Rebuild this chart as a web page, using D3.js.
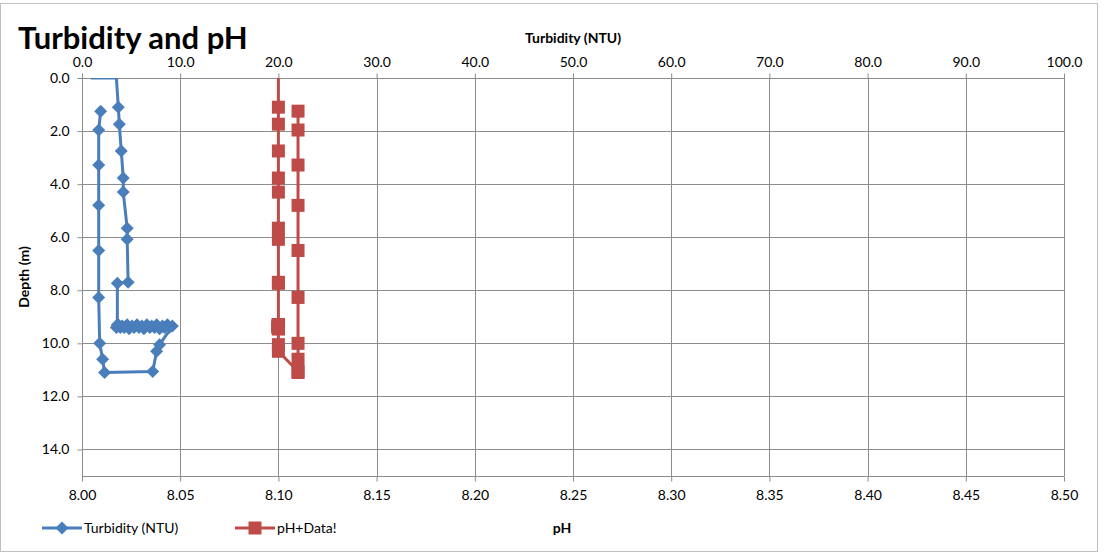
<!DOCTYPE html>
<html><head><meta charset="utf-8">
<script src="https://cdn.jsdelivr.net/npm/d3@7"></script>
<style>
html,body{margin:0;padding:0;background:#fff;}
svg{display:block;font-family:Lato,"Open Sans",sans-serif;}
</style></head>
<body>
<svg id="chart" width="1110" height="554"></svg>
<script>
// ---- data (profile in recorded order) ----
const depth = [1.25,1.96,3.28,4.8,6.5,8.27,10.0,10.6,11.1,11.06,10.3,10.05,
  9.35,9.4,9.3,9.4,9.35,9.45,9.3,9.4,9.35,9.4,9.3,9.45,9.35,9.4,9.3,9.4,9.35,9.45,9.3,9.4,9.35,9.4,9.3,9.4,9.35,9.3,
  7.74,7.7,6.08,5.66,4.3,3.77,2.75,1.74,1.1,0,0];
const turbidity = [1.9,1.7,1.7,1.7,1.7,1.7,1.8,2.1,2.3,7.2,7.6,7.9,
  9.2,8.9,8.7,8.4,8.2,7.9,7.6,7.4,7.1,6.9,6.6,6.3,6.1,5.8,5.6,5.3,5.1,4.8,4.6,4.3,4.1,3.9,3.7,3.5,3.6,3.6,
  3.6,4.7,4.6,4.6,4.2,4.2,4.0,3.8,3.7,3.5,0.9];
const pH = [8.11,8.11,8.11,8.11,8.11,8.11,8.11,8.11,8.11,8.11,8.10,8.10,
  8.10,8.10,8.10,8.10,8.10,8.10,8.10,8.10,8.10,8.10,8.10,8.10,8.10,8.10,8.10,8.10,8.10,8.10,8.10,8.10,8.10,8.10,8.10,8.10,8.10,8.10,
  8.10,8.10,8.10,8.10,8.10,8.10,8.10,8.10,8.10,8.10,8.10];
const depthTicks = [0,2,4,6,8,10,12,14];
const turbTicks = [0,10,20,30,40,50,60,70,80,90,100];
const pHTicks = [8.00,8.05,8.10,8.15,8.20,8.25,8.30,8.35,8.40,8.45,8.50];
const seriesNames = ["Turbidity (NTU)","pH+Data!"];

const W = 1110, H = 554;
const m = {left:82, right:1064, top:78, bottom:476};
const blue = "#4A7EBB", red = "#BE4B48", grid = "#8C8C8C", txt = "#000";

const svg = d3.select("#chart");
const y = d3.scaleLinear().domain([0,15]).range([m.top, m.bottom]);
const xT = d3.scaleLinear().domain([0,100]).range([m.left, m.right]);
const xP = d3.scaleLinear().domain([8.0,8.5]).range([m.left, m.right]);

// chart border
svg.append("rect").attr("x",0.5).attr("y",3.5).attr("width",1097).attr("height",548)
  .attr("fill","#fff").attr("stroke","#BFBFBF").attr("stroke-width",1);

// gridlines
const g = svg.append("g");
g.selectAll(".hg").data(depthTicks.slice(1).concat([15])).enter().append("line")
  .attr("x1",m.left).attr("x2",m.right)
  .attr("y1",d=>Math.round(y(d))+0.5).attr("y2",d=>Math.round(y(d))+0.5)
  .attr("stroke",grid).attr("stroke-width",1);
g.selectAll(".vg").data(turbTicks.slice(1)).enter().append("line")
  .attr("y1",m.top).attr("y2",m.bottom)
  .attr("x1",d=>Math.round(xT(d))+0.5).attr("x2",d=>Math.round(xT(d))+0.5)
  .attr("stroke",grid).attr("stroke-width",1);

// axes
const fmt1 = d3.format(".1f"), fmt2 = d3.format(".2f");
const axL = svg.append("g").attr("transform",`translate(${m.left+0.5},0)`)
  .call(d3.axisLeft(y).tickValues(depthTicks).tickFormat(fmt1).tickSize(5).tickPadding(8));
const axT = svg.append("g").attr("transform",`translate(0,${m.top+0.5})`)
  .call(d3.axisTop(xT).tickValues(turbTicks).tickFormat(fmt1).tickSize(5).tickPadding(7));
const axB = svg.append("g").attr("transform",`translate(0,${m.bottom+0.5})`)
  .call(d3.axisBottom(xP).tickValues(pHTicks).tickFormat(fmt2).tickSize(5).tickPadding(9));
[axL,axT,axB].forEach(a=>{
  a.select(".domain").attr("stroke",grid);
  a.selectAll(".tick line").attr("stroke",grid);
  a.selectAll(".tick text").attr("fill",txt).style("font-size","14px").style("font-family","Lato, sans-serif");
});
axL.select(".domain").attr("d",`M0,${m.top}V${m.bottom}`);
axT.select(".domain").attr("d",`M${m.left},0H${m.right}`);
axB.select(".domain").attr("d",`M${m.left},0H${m.right}`);

// clip for plot
svg.append("clipPath").attr("id","clip").append("rect")
  .attr("x",m.left-8).attr("y",m.top).attr("width",m.right-m.left+16).attr("height",m.bottom-m.top);

const idx = d3.range(depth.length);
const plot = svg.append("g").attr("clip-path","url(#clip)");
const diamond = s => `M0,${-s}L${s},0L0,${s}L${-s},0Z`;
const square = s => `M${-s},${-s}H${s}V${s}H${-s}Z`;

function drawSeries(xs, vals, color, shape){
  const line = d3.line().x(i=>xs(vals[i])).y(i=>y(depth[i]));
  plot.append("path").datum(idx).attr("d",line).attr("fill","none")
    .attr("stroke",color).attr("stroke-width",3).attr("stroke-linejoin","round");
  plot.selectAll(null).data(idx.filter(i=>depth[i]>0)).enter().append("path")
    .attr("transform",i=>`translate(${xs(vals[i])},${y(depth[i])})`)
    .attr("d",shape).attr("fill",color);
}
drawSeries(xT, turbidity, blue, diamond(6.5));
drawSeries(xP, pH, red, square(6.5));

// titles
svg.append("text").attr("x",18).attr("y",49).text("Turbidity and pH")
  .style("font-size","31px").style("font-weight","bold").attr("fill",txt);
svg.append("text").attr("x",(m.left+m.right)/2).attr("y",43).attr("text-anchor","middle")
  .text("Turbidity (NTU)").style("font-size","14px").style("font-weight","bold").attr("fill",txt);
svg.append("text").attr("x",562).attr("y",533).attr("text-anchor","middle")
  .text("pH").style("font-size","14px").style("font-weight","bold").attr("fill",txt);
svg.append("text").attr("transform",`translate(29,${(m.top+m.bottom)/2}) rotate(-90)`)
  .attr("text-anchor","middle").text("Depth (m)")
  .style("font-size","14px").style("font-weight","bold").attr("fill",txt);

// legend
const lg = svg.append("g");
const legendItems = [
  {name:seriesNames[0], color:blue, shape:diamond(6.5), x:42},
  {name:seriesNames[1], color:red, shape:square(6.5), x:235}
];
legendItems.forEach(it=>{
  const gi = lg.append("g").attr("transform",`translate(${it.x},528)`);
  gi.append("line").attr("x1",0).attr("x2",40).attr("stroke",it.color).attr("stroke-width",3);
  gi.append("path").attr("transform","translate(20,0)").attr("d",it.shape).attr("fill",it.color);
  gi.append("text").attr("x",42).attr("y",5).text(it.name).style("font-size","14px").attr("fill",txt);
});
</script>
</body></html>
